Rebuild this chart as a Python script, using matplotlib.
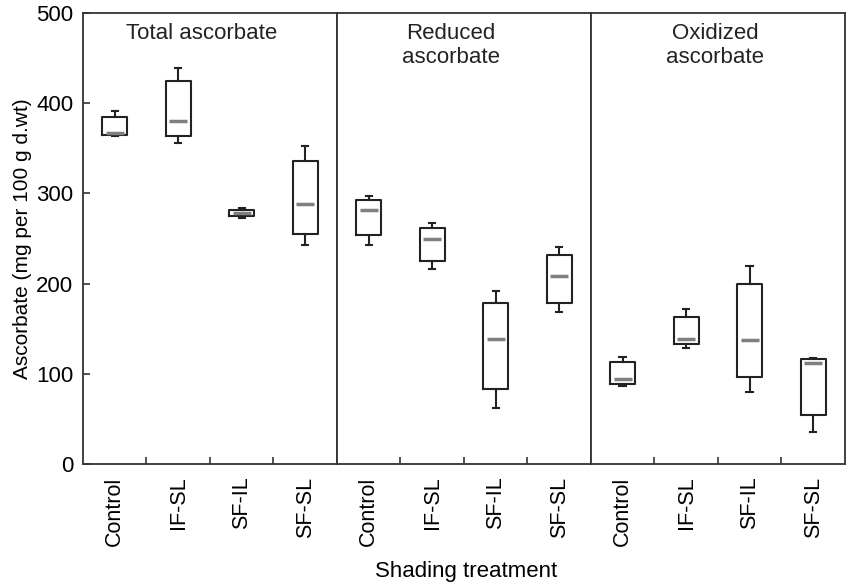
import matplotlib
matplotlib.use("Agg")
import matplotlib.pyplot as plt

plt.rcParams['font.family'] = ['Liberation Sans', 'DejaVu Sans']

treatments = ["Control", "IF-SL", "SF-IL", "SF-SL"]
panel_titles = ["Total ascorbate", "Reduced\nascorbate", "Oxidized\nascorbate"]

# per panel: whisker low, box low (q1), median, box high (q3), whisker high
total_wlo = [364, 356, 273, 243]
total_q1 = [365, 363, 275, 255]
total_med = [367, 380, 278, 288]
total_q3 = [385, 424, 282, 336]
total_whi = [391, 439, 284, 352]

reduced_wlo = [243, 216, 62, 169]
reduced_q1 = [254, 225, 83, 179]
reduced_med = [281, 249, 139, 208]
reduced_q3 = [293, 262, 179, 232]
reduced_whi = [297, 267, 192, 241]

oxid_wlo = [86, 129, 80, 35]
oxid_q1 = [89, 133, 96, 54]
oxid_med = [94, 139, 138, 112]
oxid_q3 = [113, 163, 200, 116]
oxid_whi = [119, 172, 220, 118]

panels = [
    (total_wlo, total_q1, total_med, total_q3, total_whi),
    (reduced_wlo, reduced_q1, reduced_med, reduced_q3, reduced_whi),
    (oxid_wlo, oxid_q1, oxid_med, oxid_q3, oxid_whi),
]
title_x = [0.466, 0.45, 0.49]  # where each panel title sits (axes fraction)

edge = '#222222'
fs = 16
fig, axes = plt.subplots(1, 3, figsize=(8.5, 5.83), dpi=100, sharey=True)
fig.subplots_adjust(left=0.0976, right=0.994, top=0.978, bottom=0.204, wspace=0)

positions = list(range(1, len(treatments) + 1))
for i, (ax, title, data) in enumerate(zip(axes, panel_titles, panels)):
    wlo, q1, med, q3, whi = data
    stats = []
    for j in range(len(treatments)):
        stats.append({'whislo': wlo[j], 'q1': q1[j], 'med': med[j],
                      'q3': q3[j], 'whishi': whi[j], 'fliers': []})
    ax.bxp(stats, positions=positions, widths=0.39, capwidths=0.1,
           showfliers=False,
           boxprops=dict(color=edge, linewidth=1.5),
           whiskerprops=dict(color=edge, linewidth=1.5),
           capprops=dict(color=edge, linewidth=1.5),
           medianprops=dict(linewidth=0))
    ax.plot(positions, med, linestyle='none', marker='_', markersize=13,
            markeredgewidth=2.5, color='#7f7f7f')
    ax.set_xlim(0.5, 4.5)
    ax.set_xticks(positions)
    ax.set_xticklabels(treatments, rotation=90, fontsize=fs - 0.5)
    ax.tick_params(axis='x', which='major', length=0, pad=9)
    ax.set_xticks([1.5, 2.5, 3.5], minor=True)
    ax.tick_params(axis='x', which='minor', direction='in', length=5,
                   width=1.2, color='#333333')
    ax.text(title_x[i], 0.978, title, transform=ax.transAxes, ha='center',
            va='top', fontsize=fs, color='#222222', linespacing=1.2)
    for sp in ax.spines.values():
        sp.set_color('#333333')
        sp.set_linewidth(1.3)
    if i > 0:
        ax.tick_params(axis='y', left=False)

ax0 = axes[0]
ax0.set_ylim(0, 500)
ax0.set_yticks([0, 100, 200, 300, 400, 500])
ax0.tick_params(axis='y', direction='in', length=5, width=1.2, labelsize=fs,
                color='#333333', pad=7)
ax0.set_ylabel("Ascorbate (mg per 100 g d.wt)", fontsize=15, labelpad=3)

fig.text(0.548, 0.002, "Shading treatment", ha='center', va='bottom', fontsize=fs)

fig.savefig("out.png", dpi=100)
